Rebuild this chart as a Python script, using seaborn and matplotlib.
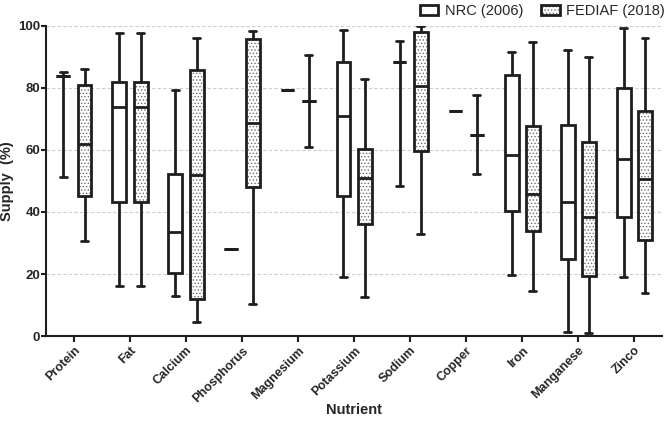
import matplotlib as mpl
mpl.use('Agg')
import matplotlib.pyplot as plt
import numpy as np
import pandas as pd
import seaborn as sns
from matplotlib.patches import Patch

# ── Data: five-number summaries (supply, %) ──────────────────────────────
nutrients = ['Protein', 'Fat', 'Calcium', 'Phosphorus', 'Magnesium',
             'Potassium', 'Sodium', 'Copper', 'Iron', 'Manganese', 'Zinco']
sources = ['NRC (2006)', 'FEDIAF (2018)']

nrc_min = [51.1, 16.3, 13.0, 27.9, 79.1, 19.2, 48.4, 72.4, 19.7, 1.3, 19.0]
nrc_q1 = [83.6, 43.3, 20.4, 27.9, 79.1, 45.2, 88.2, 72.4, 40.2, 25.0, 38.3]
nrc_med = [83.6, 73.9, 33.4, 27.9, 79.1, 70.9, 88.2, 72.4, 58.3, 43.2, 56.9]
nrc_q3 = [83.6, 81.8, 52.1, 27.9, 79.1, 88.4, 88.2, 72.4, 84.1, 67.9, 79.9]
nrc_max = [85.0, 97.6, 79.1, 27.9, 79.1, 98.4, 95.0, 72.4, 91.5, 92.1, 99.2]

fed_min = [30.7, 16.3, 4.6, 10.5, 60.8, 12.6, 32.8, 52.1, 14.6, 0.9, 13.9]
fed_q1 = [45.1, 43.3, 12.1, 47.9, 75.7, 36.1, 59.7, 64.8, 33.8, 19.5, 31.1]
fed_med = [61.8, 73.9, 51.8, 68.7, 75.7, 50.8, 80.6, 64.8, 45.9, 38.2, 50.5]
fed_q3 = [80.8, 81.8, 85.8, 95.6, 75.7, 60.2, 97.9, 64.8, 67.8, 62.5, 72.5]
fed_max = [85.9, 97.6, 96.1, 98.2, 90.5, 82.9, 99.8, 77.7, 94.6, 89.9, 95.9]

# long table: min/Q1/median/Q3/max per box -> with whis=(0,100) the box
# statistics come out exactly as read
rows = []
summ = {sources[0]: (nrc_min, nrc_q1, nrc_med, nrc_q3, nrc_max),
        sources[1]: (fed_min, fed_q1, fed_med, fed_q3, fed_max)}
for src, cols in summ.items():
    for i, nut in enumerate(nutrients):
        for c in cols:
            rows.append({'Nutrient': nut, 'Source': src, 'Supply': c[i]})
df = pd.DataFrame(rows)

# ── Style ─────────────────────────────────────────────────────────────────
sns.set_style('white')
plt.rcParams['font.family'] = ['Liberation Sans', 'DejaVu Sans']
plt.rcParams['hatch.linewidth'] = 0.6
INK = '#1e1e1e'
DOTS = '#6e6e6e'

fig = plt.figure(figsize=(6.65, 4.25), dpi=100)
ax = fig.add_axes([0.069, 0.209, 0.927, 0.731])

sns.boxplot(data=df, x='Nutrient', y='Supply', hue='Source',
            order=nutrients, hue_order=sources, whis=(0, 100),
            width=0.76, gap=0.35, palette=['white', 'white'],
            linecolor=INK, linewidth=2, fliersize=0, legend=False, ax=ax)

# dotted fill for the FEDIAF boxes (right-hand box of each pair)
for p in ax.patches:
    xs = p.get_path().vertices[:, 0]
    if len(xs) == 0:
        continue
    xc = xs.mean()
    if xc - round(xc) > 0:
        p.set_hatch('.....')
        p._hatch_color = mpl.colors.to_rgba(DOTS)
        p.stale = True

ax.set_ylim(0, 100)
ax.set_xlim(-0.5, 10.5)
ax.set_yticks([0, 20, 40, 60, 80, 100])
ax.yaxis.grid(True, linestyle=(0, (3, 2)), color='#cdcdcd', linewidth=0.8)
ax.set_axisbelow(True)
for s in ['top', 'right']:
    ax.spines[s].set_visible(False)
for s in ['left', 'bottom']:
    ax.spines[s].set_linewidth(1.5)
    ax.spines[s].set_color(INK)
ax.tick_params(axis='both', which='major', direction='out', length=4,
               width=1.5, color=INK, labelsize=9, pad=2,
               left=True, bottom=True)
ax.tick_params(axis='y', labelsize=9.5, length=3.5, pad=0.5)
for lab in ax.get_yticklabels():
    lab.set_fontweight('bold')
for lab in ax.get_xticklabels():
    lab.set_fontweight('bold')
    lab.set_rotation(45)
    lab.set_ha('right')
    lab.set_rotation_mode('anchor')

ax.set_xlabel('Nutrient', fontsize=10.5, fontweight='bold')
ax.set_ylabel('Supply  (%)', fontsize=10.5, fontweight='bold')
ax.xaxis.set_label_coords(0.5, -0.215)
ax.xaxis.label.set_va('top')
ax.yaxis.set_label_coords(-0.052, 0.5)

handles = [Patch(facecolor='white', edgecolor=INK, linewidth=2),
           Patch(facecolor='white', edgecolor=INK, linewidth=2, hatch='.....')]
leg = fig.legend(handles, sources, loc='upper right', bbox_to_anchor=(1.02, 1.022),
                 ncol=2, frameon=False, fontsize=10.5, handlelength=1.3,
                 handleheight=0.65, columnspacing=1.2, handletextpad=0.45)
for h in leg.legend_handles:
    if h.get_hatch():
        h._hatch_color = mpl.colors.to_rgba(DOTS)

fig.savefig('out.png', dpi=100)
